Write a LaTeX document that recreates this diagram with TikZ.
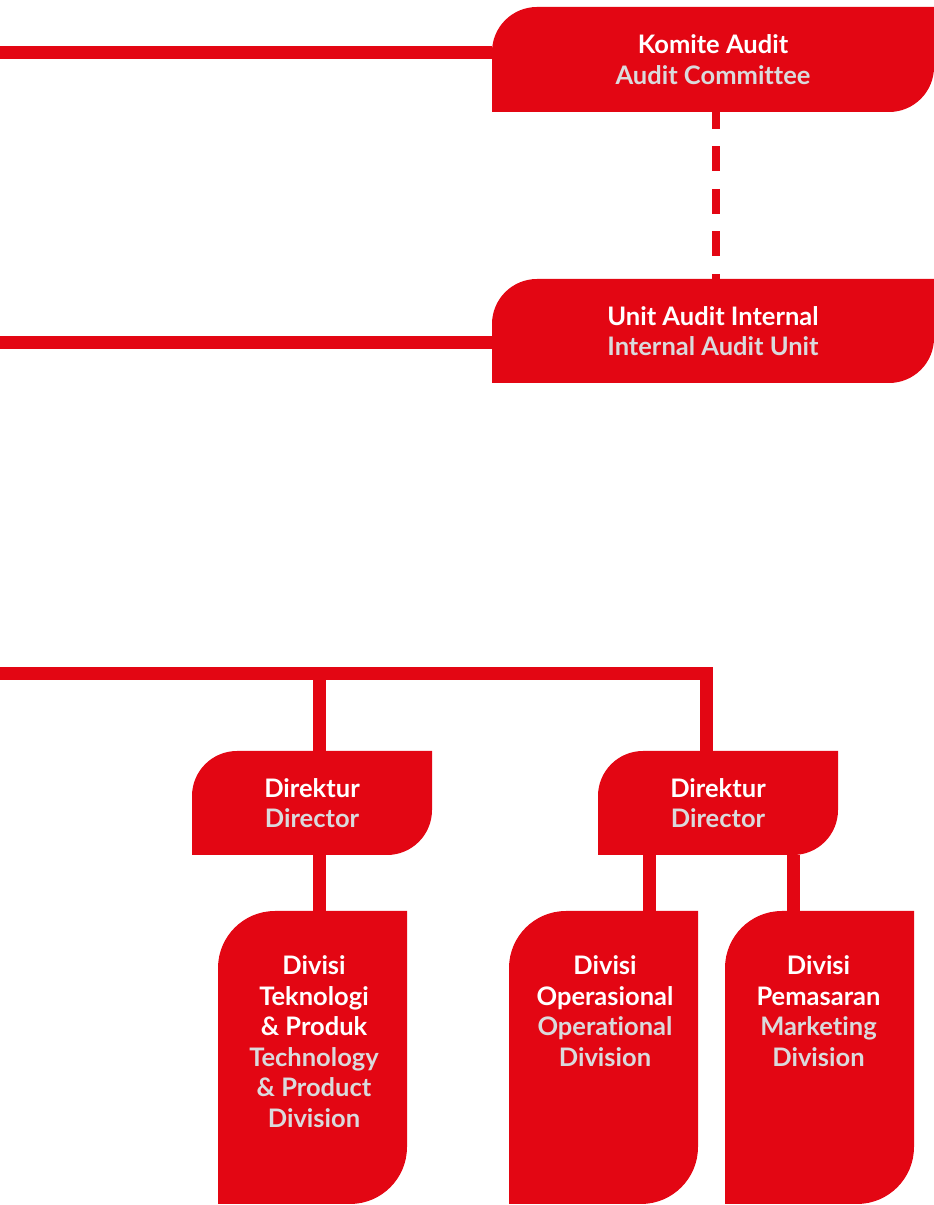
\documentclass[tikz,border=0pt]{standalone}
\usepackage{fontspec}
\setmainfont{Lato}[UprightFont=* Bold, Ligatures=NoCommon]
\usetikzlibrary{backgrounds,calc}

\definecolor{brandred}{RGB}{227,6,19}
\definecolor{subgray}{RGB}{218,218,220}

% Box with rounded top-left and bottom-right corners, filled behind its node
\newcommand{\leaffill}[2]{%
  \begin{scope}[on background layer]
    \fill[brandred] (#1.south west) -- ([yshift=-#2]#1.north west)
      arc[start angle=180, end angle=90, radius=#2]
      -- (#1.north east) -- ([yshift=#2]#1.south east)
      arc[start angle=0, end angle=-90, radius=#2] -- cycle;
  \end{scope}}

\tikzset{
  box/.style={inner sep=0pt, outer sep=0pt, align=center,
    font=\fontsize{25.5}{30.5}\selectfont, text=white},
  wide/.style={box, minimum width=442pt, minimum height=105pt},
  director/.style={box, minimum width=240pt, minimum height=104pt},
  division/.style={box, minimum width=189pt, minimum height=293pt},
  divtext/.style={box, anchor=north},
  link/.style={brandred, line width=13pt},
  dashlink/.style={brandred, line width=8pt, dash pattern=on 25pt off 17.5pt, dash phase=8pt},
}
\newcommand{\en}[1]{\textcolor{subgray}{#1}}

\begin{document}
\begin{tikzpicture}[x=1pt, y=1pt]
  \useasboundingbox (0,0) rectangle (934,1205);

  % upper boxes
  \node[wide] (ka) at (713,1145.5) {Komite Audit\\\en{Audit Committee}};
  \node[wide, minimum height=104pt] (uai) at (713,874) {Unit Audit Internal\\\en{Internal Audit Unit}};
  \leaffill{ka}{45pt}
  \leaffill{uai}{45pt}

  % directors
  \node[director] (d1) at (312,402) {Direktur\\\en{Director}};
  \node[director] (d2) at (718,402) {Direktur\\\en{Director}};
  \leaffill{d1}{45pt}
  \leaffill{d2}{45pt}

  % divisions
  \node[division] (v1) at (312.5,147.5) {};
  \node[division] (v2) at (603.5,147.5) {};
  \node[division] (v3) at (819.5,147.5) {};
  \leaffill{v1}{57pt}
  \leaffill{v2}{57pt}
  \leaffill{v3}{57pt}
  \node[divtext] (v1t) at ([yshift=-45pt, xshift=1.5pt]v1.north) {Divisi\\Teknologi\\\&~Produk\\\en{Technology}\\\en{\&~Product}\\\en{Division}};
  \node[divtext] (v2t) at ([yshift=-45pt, xshift=1.5pt]v2.north) {Divisi\\Operasional\\\en{Operational}\\\en{Division}};
  \node[divtext] (v3t) at ([yshift=-45pt, xshift=-1pt]v3.north) {Divisi\\Pemasaran\\\en{Marketing}\\\en{Division}};

  % lines coming in from the left edge
  \coordinate (e1) at (0,1152.5);
  \coordinate (e2) at (0,862);
  \coordinate (e3) at (0,531);
  \draw[link] (e1) -- (e1 -| ka.west);
  \draw[link] (e2) -- (e2 -| uai.west);

  % dashed link between the audit boxes
  \draw[dashlink] ([xshift=2.6pt]ka.south) -- ([xshift=2.6pt]uai.north);

  % bus to the directors
  \coordinate (d1in) at ([xshift=7pt]d1.north);
  \coordinate (d2in) at ([xshift=-12pt]d2.north);
  \draw[link, line join=miter] (e3) -| (d2in);
  \draw[link] (e3 -| d1in) -- (d1in);

  % directors to divisions
  \coordinate (d1out) at ([xshift=7pt]d1.south);
  \coordinate (d2outa) at ([xshift=-69pt]d2.south);
  \coordinate (d2outb) at ([xshift=75pt]d2.south);
  \draw[link] (d1out) -- (d1out |- v1.north);
  \draw[link] (d2outa) -- (d2outa |- v2.north);
  \draw[link] (d2outb) -- (d2outb |- v3.north);
\end{tikzpicture}
\end{document}
